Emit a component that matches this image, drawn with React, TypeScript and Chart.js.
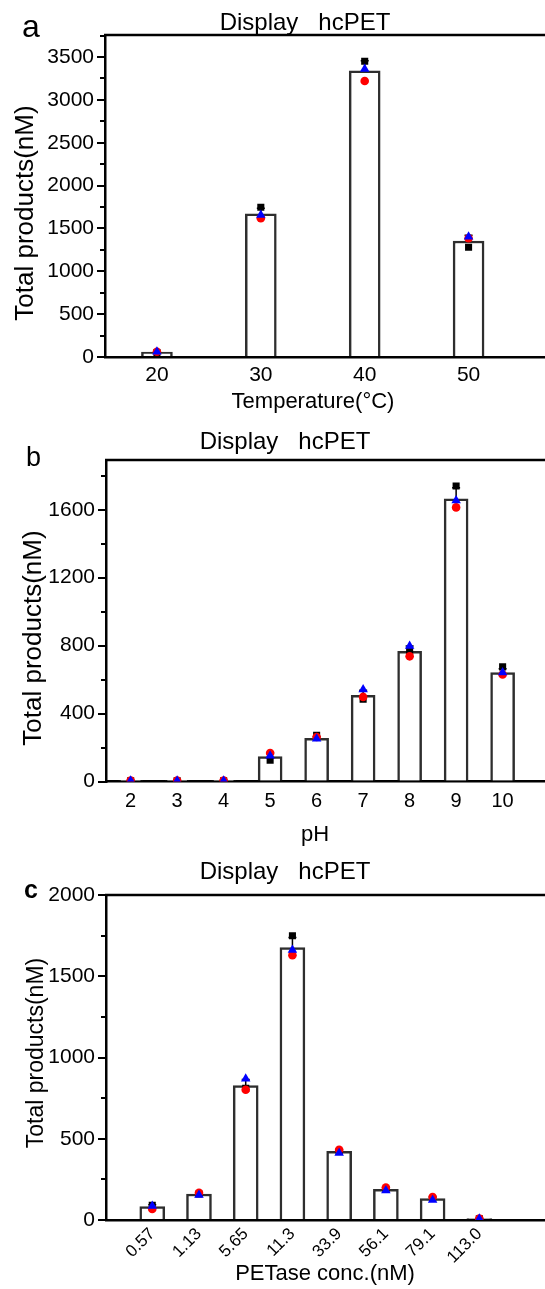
import React, { useEffect, useRef } from 'react';
import { Chart, registerables } from 'chart.js';

Chart.register(...registerables);

const FONT = '"Liberation Sans", Arial, Helvetica, sans-serif';

// ---------- Panel a: temperature ----------
const tempCategories = [20, 30, 40, 50];
const tempLabels = ['20', '30', '40', '50'];
const tempMeans = [58, 1670, 3340, 1353];
const tempSquares = [52, 1748, 3450, 1280];
const tempCircles = [62, 1619, 3221, 1385];
const tempTriangles = [60, 1658, 3361, 1403];
const tempYTicks = [0, 500, 1000, 1500, 2000, 2500, 3000, 3500];

// ---------- Panel b: pH ----------
const phCategories = [2, 3, 4, 5, 6, 7, 8, 9, 10];
const phLabels = ['2', '3', '4', '5', '6', '7', '8', '9', '10'];
const phMeans = [5, 5, 5, 146, 254, 508, 767, 1665, 641];
const phSquares = [4, 4, 4, 125, 272, 485, 766, 1740, 675];
const phCircles = [6, 6, 6, 168, 262, 498, 737, 1614, 630];
const phTriangles = [5, 5, 5, 152, 252, 541, 798, 1654, 642];
const phYTicks = [0, 400, 800, 1200, 1600];

// ---------- Panel c: PETase concentration ----------
const concIndex = [0, 1, 2, 3, 4, 5, 6, 7];
const concLabels = ['0.57', '1.13', '5.65', '11.3', '33.9', '56.1', '79.1', '113.0'];
const concMeans = [82, 160, 827, 1677, 422, 189, 132, 8];
const concSquares = [90, 160, 810, 1749, 422, 188, 132, 8];
const concCircles = [68, 168, 802, 1630, 432, 200, 142, 9];
const concTriangles = [86, 154, 870, 1662, 412, 181, 123, 7];
const concYTicks = [0, 500, 1000, 1500, 2000];

function sampleSD(vals: number[]): number {
  const m = vals.reduce((a, b) => a + b, 0) / vals.length;
  const v = vals.reduce((a, b) => a + (b - m) * (b - m), 0) / (vals.length - 1);
  return Math.sqrt(v);
}

type TextItem = {
  text: string;
  x: number;
  y: number;
  size: number;
  bold?: boolean;
  rotate?: boolean;
  align?: CanvasTextAlign;
};

type PanelCfg = {
  top: number;
  height: number;
  xs: number[];
  xLabels: string[];
  means: number[];
  squares: number[];
  circles: number[];
  triangles: number[];
  yTicks: number[];
  xMin: number;
  xMax: number;
  yMax: number;
  barThickness: number;
  chartTop: number;
  chartBottom: number;
  chartLeft: number;
  xTickSize: number;
  xTickPadding: number;
  xRotation: number;
  yTickSize: number;
  texts: TextItem[];
};

const framePlugin = {
  id: 'frameTexts',
  afterDraw(chart: any, _args: any, opts: any) {
    const ctx = chart.ctx as CanvasRenderingContext2D;
    const ca = chart.chartArea;
    const y = chart.scales.y;
    ctx.save();
    ctx.strokeStyle = '#000';
    ctx.lineWidth = 2.5;
    // top frame line
    ctx.beginPath();
    ctx.moveTo(ca.left - 1, ca.top);
    ctx.lineTo(ca.right, ca.top);
    ctx.stroke();
    // minor ticks (midway between major ticks)
    const major: number[] = opts.yTicks;
    const step = major[1] - major[0];
    ctx.lineWidth = 2;
    for (let v = step / 2; v <= y.max + 1e-9; v += step) {
      const py = Math.round(y.getPixelForValue(v));
      ctx.beginPath();
      ctx.moveTo(ca.left - 5, py);
      ctx.lineTo(ca.left, py);
      ctx.stroke();
    }
    // texts
    ctx.fillStyle = '#000';
    ctx.textBaseline = 'alphabetic';
    (opts.texts as TextItem[]).forEach((t) => {
      ctx.save();
      ctx.font = `${t.bold ? 'bold ' : ''}${t.size}px ${FONT}`;
      if (t.rotate) {
        ctx.translate(t.x, t.y);
        ctx.rotate(-Math.PI / 2);
        ctx.textAlign = 'center';
        ctx.fillText(t.text, 0, 0);
      } else {
        ctx.textAlign = t.align || 'center';
        ctx.fillText(t.text, t.x, t.y);
      }
      ctx.restore();
    });
    ctx.restore();
  },
};

const errorBarPlugin = {
  id: 'errBars',
  afterDatasetDraw(chart: any, args: any, opts: any) {
    if (args.index !== 0) return;
    const ctx = chart.ctx as CanvasRenderingContext2D;
    const xs = chart.scales.x;
    const ys = chart.scales.y;
    const cats: number[] = opts.xs;
    const means: number[] = opts.means;
    const sds: number[] = opts.sds;
    ctx.save();
    ctx.strokeStyle = '#000';
    ctx.lineWidth = 1.5;
    cats.forEach((c, i) => {
      const px = xs.getPixelForValue(c);
      const y0 = ys.getPixelForValue(means[i]);
      const y1 = ys.getPixelForValue(means[i] + sds[i]);
      ctx.beginPath();
      ctx.moveTo(px, y0);
      ctx.lineTo(px, y1);
      ctx.moveTo(px - 4, y1);
      ctx.lineTo(px + 4, y1);
      ctx.stroke();
    });
    ctx.restore();
  },
};

const CANVAS_W = 620;

function Panel({ cfg }: { cfg: PanelCfg }) {
  const ref = useRef<HTMLCanvasElement>(null);
  useEffect(() => {
    if (!ref.current) return;
    const sds = cfg.xs.map((_, i) => sampleSD([cfg.squares[i], cfg.circles[i], cfg.triangles[i]]));
    const pts = (arr: number[]) => cfg.xs.map((x, i) => ({ x, y: arr[i] }));
    const chart = new Chart(ref.current, {
      type: 'bar',
      data: {
        datasets: [
          {
            type: 'bar',
            data: pts(cfg.means),
            backgroundColor: '#ffffff',
            borderColor: '#2e2e2e',
            borderWidth: 2.5,
            barThickness: cfg.barThickness,
            order: 10,
          } as any,
          {
            type: 'scatter',
            data: pts(cfg.squares),
            pointStyle: 'rect',
            pointRadius: 5,
            backgroundColor: '#000000',
            borderColor: '#000000',
            borderWidth: 0,
            order: 3,
          } as any,
          {
            type: 'scatter',
            data: pts(cfg.circles),
            pointStyle: 'circle',
            pointRadius: 4.3,
            backgroundColor: '#ff0000',
            borderColor: '#ff0000',
            borderWidth: 0,
            order: 2,
          } as any,
          {
            type: 'scatter',
            data: pts(cfg.triangles),
            pointStyle: 'triangle',
            pointRadius: 5.5,
            backgroundColor: '#0000ff',
            borderColor: '#0000ff',
            borderWidth: 0,
            order: 1,
          } as any,
        ],
      },
      options: {
        responsive: false,
        animation: false,
        events: [],
        layout: { padding: { top: cfg.chartTop, left: 0, right: 0, bottom: 0 } },
        plugins: {
          legend: { display: false },
          tooltip: { enabled: false },
          title: { display: false },
          frameTexts: { yTicks: cfg.yTicks, texts: cfg.texts },
          errBars: { xs: cfg.xs, means: cfg.means, sds },
        } as any,
        scales: {
          x: {
            type: 'linear',
            min: cfg.xMin,
            max: cfg.xMax,
            offset: false,
            grid: { display: false },
            border: { display: true, color: '#000', width: 2.5 },
            afterBuildTicks: (s: any) => {
              s.ticks = cfg.xs.map((v) => ({ value: v }));
            },
            afterFit: (s: any) => {
              s.height = cfg.height - cfg.chartBottom;
            },
            ticks: {
              autoSkip: false,
              maxRotation: cfg.xRotation,
              minRotation: cfg.xRotation,
              color: '#000',
              padding: cfg.xTickPadding,
              font: { family: FONT, size: cfg.xTickSize },
              callback: (_v: any, i: number) => cfg.xLabels[i],
            },
          },
          y: {
            type: 'linear',
            min: 0,
            max: cfg.yMax,
            afterBuildTicks: (s: any) => {
              s.ticks = cfg.yTicks.map((v) => ({ value: v }));
            },
            afterFit: (s: any) => {
              s.width = cfg.chartLeft;
            },
            grid: {
              display: true,
              drawOnChartArea: false,
              drawTicks: true,
              tickLength: 8,
              color: '#000',
              lineWidth: 2,
            },
            border: { display: true, color: '#000', width: 2.5 },
            ticks: {
              autoSkip: false,
              color: '#000',
              padding: 3,
              font: { family: FONT, size: cfg.yTickSize },
              callback: (v: any) => String(v),
            },
          },
        } as any,
      },
      plugins: [framePlugin, errorBarPlugin],
    });
    return () => chart.destroy();
  }, [cfg]);
  return (
    <canvas
      ref={ref}
      width={CANVAS_W}
      height={cfg.height}
      style={{ position: 'absolute', left: 0, top: cfg.top, width: CANVAS_W, height: cfg.height }}
    />
  );
}

const panelA: PanelCfg = {
  top: 0,
  height: 420,
  xs: tempCategories,
  xLabels: tempLabels,
  means: tempMeans,
  squares: tempSquares,
  circles: tempCircles,
  triangles: tempTriangles,
  yTicks: tempYTicks,
  xMin: 15,
  xMax: 15 + (CANVAS_W - 105) / 10.5,
  yMax: 3757,
  barThickness: 31,
  chartTop: 35,
  chartBottom: 357,
  chartLeft: 105,
  xTickSize: 21,
  xTickPadding: -2,
  xRotation: 0,
  yTickSize: 21,
  texts: [
    { text: 'a', x: 22, y: 37, size: 32, align: 'left' },
    { text: 'Display   hcPET', x: 305, y: 30, size: 24 },
    { text: 'Total products(nM)', x: 33, y: 213, size: 26, rotate: true },
    { text: 'Temperature(°C)', x: 313, y: 408, size: 22 },
  ],
};

const panelB: PanelCfg = {
  top: 420,
  height: 430,
  xs: phCategories,
  xLabels: phLabels,
  means: phMeans,
  squares: phSquares,
  circles: phCircles,
  triangles: phTriangles,
  yTicks: phYTicks,
  xMin: 1.47,
  xMax: 1.47 + (CANVAS_W - 106) / 47,
  yMax: 1893,
  barThickness: 24,
  chartTop: 40,
  chartBottom: 361.5,
  chartLeft: 106,
  xTickSize: 20,
  xTickPadding: 0,
  xRotation: 0,
  yTickSize: 21,
  texts: [
    { text: 'b', x: 26, y: 46, size: 27, align: 'left' },
    { text: 'Display   hcPET', x: 285, y: 29, size: 24 },
    { text: 'Total products(nM)', x: 41, y: 218, size: 26, rotate: true },
    { text: 'pH', x: 315, y: 421, size: 22 },
  ],
};

const panelC: PanelCfg = {
  top: 850,
  height: 439,
  xs: concIndex,
  xLabels: concLabels,
  means: concMeans,
  squares: concSquares,
  circles: concCircles,
  triangles: concTriangles,
  yTicks: concYTicks,
  xMin: -0.99,
  xMax: -0.99 + (CANVAS_W - 106) / 47.23,
  yMax: 2000,
  barThickness: 25,
  chartTop: 45,
  chartBottom: 370,
  chartLeft: 106,
  xTickSize: 17,
  xTickPadding: -4,
  xRotation: 45,
  yTickSize: 21,
  texts: [
    { text: 'c', x: 24, y: 48, size: 25, bold: true, align: 'left' },
    { text: 'Display   hcPET', x: 285, y: 29, size: 24 },
    { text: 'Total products(nM)', x: 43, y: 203, size: 23, rotate: true },
    { text: 'PETase conc.(nM)', x: 325, y: 430, size: 22 },
  ],
};

export default function App() {
  return (
    <div
      style={{
        position: 'absolute',
        left: 0,
        top: 0,
        width: 545,
        height: 1289,
        overflow: 'hidden',
        background: '#fff',
      }}
    >
      <Panel cfg={panelA} />
      <Panel cfg={panelB} />
      <Panel cfg={panelC} />
    </div>
  );
}
